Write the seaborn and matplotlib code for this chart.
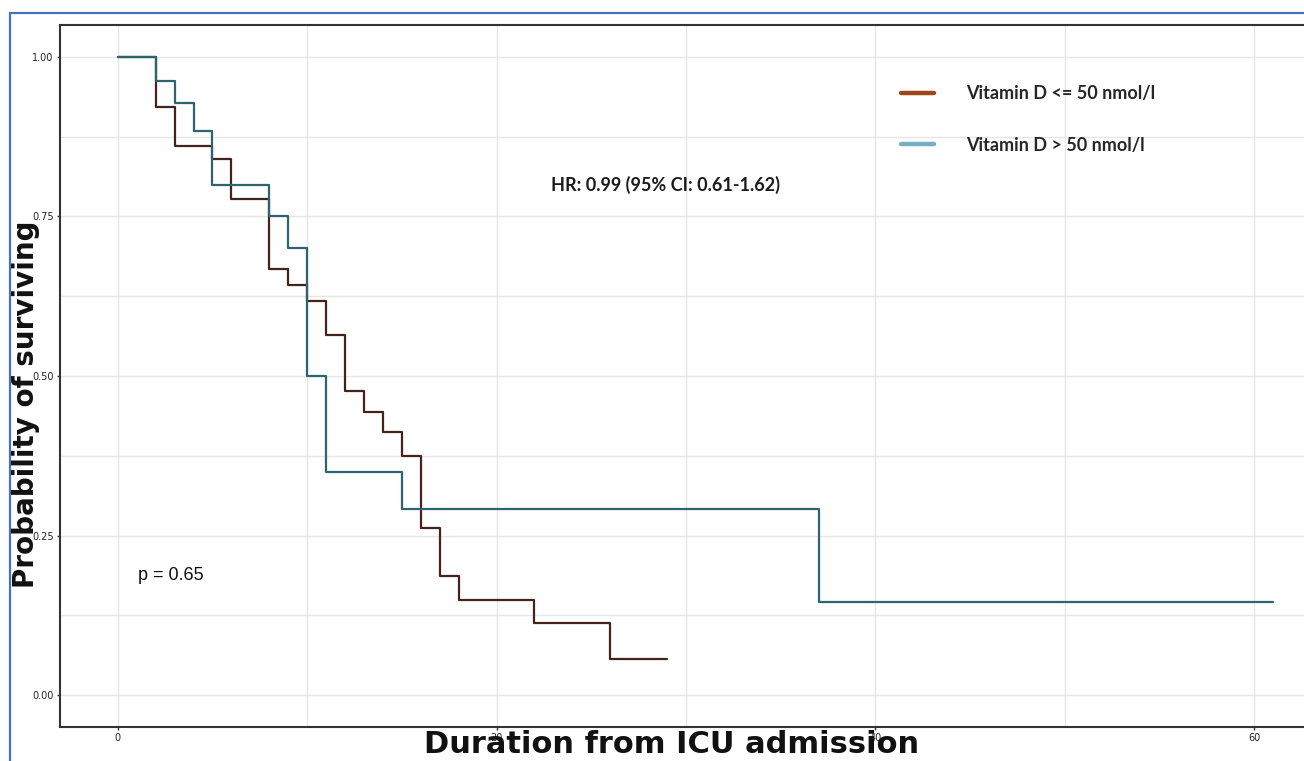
import numpy as np
import pandas as pd
import matplotlib
matplotlib.use("Agg")
import matplotlib.pyplot as plt
import seaborn as sns
from matplotlib.lines import Line2D
from matplotlib.patches import Rectangle

# Kaplan-Meier steps (last entry = end of follow-up)
low_times = [0, 2, 3, 5, 6, 8, 9, 10, 11, 12, 13, 14, 15, 16, 17, 18, 22, 26, 29]
low_surv = [1.0, 0.922, 0.860, 0.840, 0.777, 0.667, 0.642, 0.617, 0.565, 0.476,
            0.444, 0.412, 0.374, 0.262, 0.187, 0.149, 0.113, 0.056, 0.056]
high_times = [0, 2, 3, 4, 5, 8, 9, 10, 11, 15, 37, 61]
high_surv = [1.0, 0.963, 0.927, 0.884, 0.800, 0.750, 0.700, 0.500, 0.350, 0.292, 0.146, 0.146]

groups = ["Vitamin D <= 50 nmol/l", "Vitamin D > 50 nmol/l"]
line_colors = ["#45231d", "#2d6470"]
legend_colors = ["#a0441c", "#74afc2"]
hr_text = "HR: 0.99 (95% CI: 0.61-1.62)"
p_text = "p = 0.65"

df = pd.concat([
    pd.DataFrame({"time": low_times, "surv": low_surv, "group": groups[0]}),
    pd.DataFrame({"time": high_times, "surv": high_surv, "group": groups[1]}),
])

sns.set_theme(style="white")
W, H = 1304, 761
fig = plt.figure(figsize=(W / 100, H / 100), dpi=100)
ax = fig.add_axes([60 / W, 34 / H, 1271 / W, 702 / H])

sns.lineplot(data=df, x="time", y="surv", hue="group", hue_order=groups,
             palette=line_colors, drawstyle="steps-post", estimator=None,
             linewidth=1.6, legend=False, ax=ax)

ax.set_xlim(-3.05, 64.05)
ax.set_ylim(-0.05, 1.05)
ax.set_xticks([0, 20, 40, 60])
ax.set_xticks([10, 30, 50], minor=True)
ax.set_yticks([0, 0.25, 0.5, 0.75, 1.0])
ax.set_yticklabels(["0.00", "0.25", "0.50", "0.75", "1.00"])
ax.set_yticks([0.125, 0.375, 0.625, 0.875], minor=True)
ax.grid(which="both", color="#e6e6e6", linewidth=1.0)
ax.set_axisbelow(True)
ax.tick_params(which="major", length=2.5, width=1, color="#333333",
               labelsize=7, labelcolor="#222222", pad=2, left=True, bottom=True)
ax.tick_params(which="minor", length=0)
for s in ax.spines.values():
    s.set_color("#333333")
    s.set_linewidth(1.5)
ax.set_xlabel("")
ax.set_ylabel("")

# axis titles (wide bold type, sitting right at the bottom edge as in the reference)
fig.text(672 / W, 1 - 753 / H, "Duration from ICU admission", ha="center", va="baseline",
         fontsize=22, fontweight="bold", family="DejaVu Sans", color="#111111")
fig.text(34 / W, 1 - 404 / H, "Probability of surviving", ha="center", va="baseline",
         rotation=90, rotation_mode="anchor", fontsize=20, fontweight="bold",
         family="DejaVu Sans", color="#111111")

# annotations
ax.text(22.85, 0.80, hr_text, ha="left", va="center", fontsize=13,
        fontweight="bold", family="Lato", color="#1a1a1a")
ax.text(1.05, 0.187, p_text, ha="left", va="center", fontsize=13,
        family="Liberation Sans", color="#111111")

handles = [Line2D([], [], color=c, linewidth=3.2) for c in legend_colors]
leg = ax.legend(handles, groups, loc="upper left", bbox_to_anchor=(885 / W, 1 - 69 / H),
                bbox_transform=fig.transFigure, frameon=False, handlelength=1.8,
                handletextpad=1.8, labelspacing=1.9,
                prop={"family": "Lato", "weight": "bold", "size": 13})

# blue frame of the original figure
fig.add_artist(Rectangle((10 / W, -0.1), 2.0, (H - 13) / H + 0.1, transform=fig.transFigure,
                         fill=False, edgecolor="#4472c4", linewidth=1.6, clip_on=False))

fig.savefig("out.png", dpi=100)
